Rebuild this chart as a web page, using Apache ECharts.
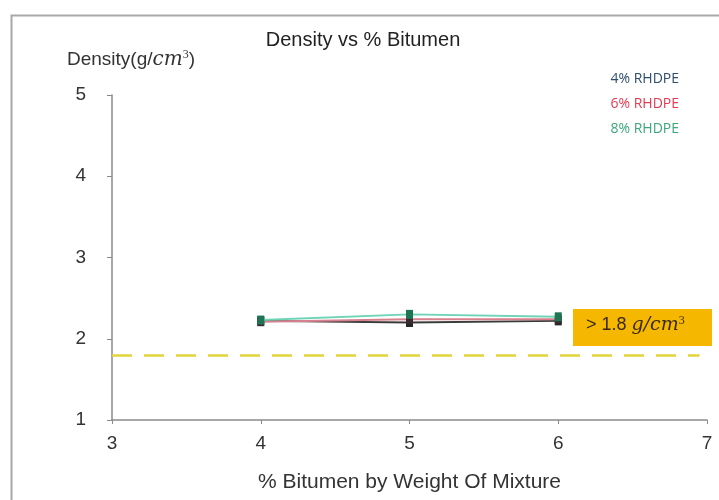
<!DOCTYPE html>
<html>
<head>
<meta charset="utf-8">
<script src="https://cdn.jsdelivr.net/npm/echarts@6/dist/echarts.min.js"></script>
<style>
  html, body { margin: 0; padding: 0; background: #fff; }
  #chart { width: 719px; height: 500px; }
</style>
</head>
<body>
<div id="chart"></div>
<script>
// Bitumen content (% by weight of mixture)
const bitumen = [4, 5, 6];
// Measured density (g/cm3) for each RHDPE content
const density4 = [2.22, 2.20, 2.22];
const density6 = [2.21, 2.24, 2.24];
const density8 = [2.23, 2.30, 2.27];
// Minimum required density
const minDensity = 1.8;
const seriesNames = ['4% RHDPE', '6% RHDPE', '8% RHDPE'];
const xTicks = [3, 4, 5, 6, 7];
const yTicks = [1, 2, 3, 4, 5];

const pairs = (ys) => bitumen.map((x, i) => [x, ys[i]]);
const font = 'Liberation Sans, Arial, sans-serif';
const mathFont = 'DejaVu Serif, Liberation Serif, serif';

const chart = echarts.init(document.getElementById('chart'), null, { renderer: 'canvas' });

chart.setOption({
  animation: false,
  backgroundColor: '#fff',
  textStyle: { fontFamily: font },
  title: {
    text: 'Density vs % Bitumen',
    left: 358, top: 25, textAlign: 'center',
    textStyle: { fontSize: 20, fontWeight: 'normal', color: '#222', fontFamily: font }
  },
  legend: {
    orient: 'vertical', right: 30, top: 67, itemGap: 11,
    align: 'right',
    itemWidth: 0, itemHeight: 0,
    selectedMode: false,
    textStyle: { fontSize: 14, fontFamily: 'Open Sans, sans-serif' },
    data: [
      { name: seriesNames[0], icon: 'none', textStyle: { color: '#2f4d6c' } },
      { name: seriesNames[1], icon: 'none', textStyle: { color: '#e23a52' } },
      { name: seriesNames[2], icon: 'none', textStyle: { color: '#3ca77a' } }
    ]
  },
  grid: { left: 112, right: 12, top: 95, bottom: 80 },
  xAxis: {
    type: 'value', min: xTicks[0], max: xTicks[xTicks.length - 1], interval: 1,
    name: '% Bitumen by Weight Of Mixture',
    nameLocation: 'middle', nameGap: 52,
    nameTextStyle: { fontSize: 21, color: '#333' },
    axisLine: { lineStyle: { color: '#8a8a8a', width: 1.5 } },
    axisTick: { show: true, length: 4, lineStyle: { color: '#8a8a8a' } },
    axisLabel: { fontSize: 19, color: '#333', margin: 14 },
    splitLine: { show: false }
  },
  yAxis: {
    type: 'value', min: yTicks[0], max: yTicks[yTicks.length - 1], interval: 1,
    name: 'Density(g/{i|cm}{s|3})',
    nameLocation: 'end', nameGap: 25,
    nameTextStyle: {
      fontSize: 19, color: '#333', align: 'center', padding: [0, 0, 0, 38],
      rich: {
        i: { fontSize: 20, fontStyle: 'italic', fontFamily: mathFont, color: '#333' },
        s: { fontSize: 12, fontFamily: 'Liberation Serif, serif', color: '#333', verticalAlign: 'top', padding: [0, 0, 9, 0] }
      }
    },
    axisLine: { show: true, lineStyle: { color: '#8a8a8a', width: 1.5 } },
    axisTick: { show: true, length: 5, lineStyle: { color: '#8a8a8a' } },
    axisLabel: { fontSize: 19, color: '#333', margin: 26 },
    splitLine: { show: false }
  },
  series: [
    {
      name: seriesNames[0], type: 'line', data: pairs(density4),
      symbol: 'rect', symbolSize: [7, 9], color: '#2f4d6c',
      lineStyle: { color: '#3a3a3a', width: 2 },
      itemStyle: { color: '#262626' }, z: 3
    },
    {
      name: seriesNames[1], type: 'line', data: pairs(density6),
      symbol: 'rect', symbolSize: [7, 9], color: '#e23a52',
      lineStyle: { color: '#d9808f', width: 2 },
      itemStyle: { color: '#3a2a30' }, z: 4
    },
    {
      name: seriesNames[2], type: 'line', data: pairs(density8),
      symbol: 'rect', symbolSize: [7, 9], color: '#3ca77a',
      lineStyle: { color: '#6fd4b6', width: 2 },
      itemStyle: { color: '#1f7452' }, z: 5,
      markLine: {
        silent: true, symbol: 'none',
        label: { show: false },
        lineStyle: { color: '#e2d43a', type: [20, 12], width: 2.5 },
        data: [[{ coord: [3, minDensity] }, { coord: [6.95, minDensity] }]]
      }
    }
  ],
  graphic: [
    {
      type: 'rect', left: 9, top: 13, silent: true,
      shape: { width: 720, height: 500 },
      style: { fill: 'none', stroke: '#a8a8a8', lineWidth: 2 }
    },
    {
      type: 'rect', left: 573, top: 309, silent: true,
      shape: { width: 139, height: 37 },
      style: { fill: '#f5b700' }
    },
    {
      type: 'text', left: 586, top: 315, silent: true,
      style: {
        text: '> 1.8 {i|g/cm}{s|3}',
        fontSize: 18, fill: '#3a2a10', fontFamily: font,
        rich: {
          i: { fontSize: 19, fontStyle: 'italic', fontFamily: mathFont, fill: '#3a2a10' },
          s: { fontSize: 12, fontFamily: 'Liberation Serif, serif', fill: '#3a2a10', verticalAlign: 'top', padding: [0, 0, 9, 0] }
        }
      }
    }
  ]
});
</script>
</body>
</html>
